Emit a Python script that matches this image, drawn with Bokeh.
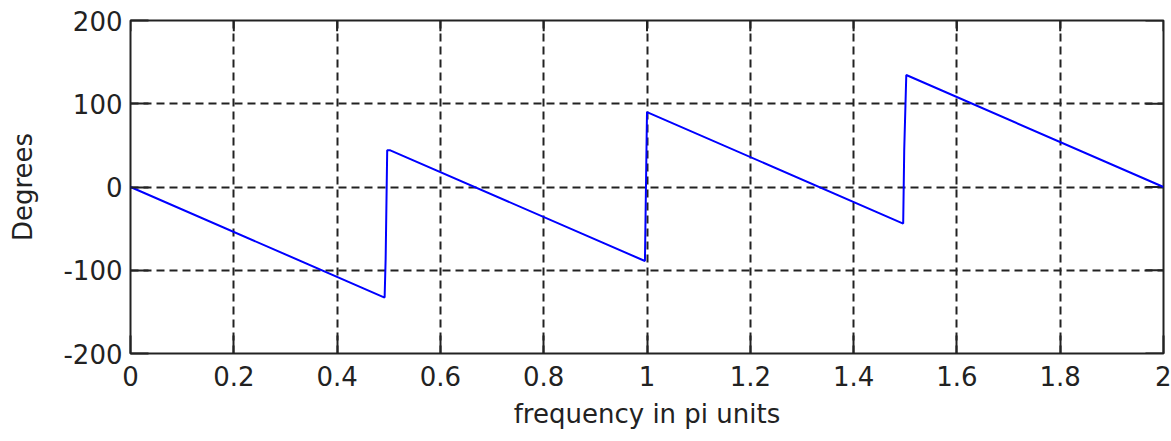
from bokeh.plotting import figure
from bokeh.models import LinearAxis, FixedTicker, Range1d, Grid
from bokeh.embed import file_html
from bokeh.resources import INLINE

# data (frequency in pi units, phase in degrees)
freq = [0.0, 0.492, 0.494, 0.497, 0.503, 0.996, 1.000, 1.496, 1.498, 1.502, 2.0]
phase = [0.0, -132.8, -86.0, 44.0, 44.0, -88.9, 90.0, -43.9, 44.0, 134.5, 0.0]

x_ticks = [0, 0.2, 0.4, 0.6, 0.8, 1.0, 1.2, 1.4, 1.6, 1.8, 2.0]
x_tick_labels = ["0", "0.2", "0.4", "0.6", "0.8", "1", "1.2", "1.4", "1.6", "1.8", "2"]
y_ticks = [-200, -100, 0, 100, 200]
y_tick_labels = ["-200", "-100", "0", "100", "200"]

FONT = "DejaVu Sans"
FS = "26px"
INK = "#222222"
XMIN, XMAX, YMIN, YMAX = 0, 2, -200, 200

W, H = 1171, 433
ML, MR, MT, MB = 130, 8, 20, 80

p = figure(width=W, height=H, output_backend="svg", toolbar_location=None,
           x_range=Range1d(XMIN, XMAX), y_range=Range1d(YMIN, YMAX),
           min_border_left=ML, min_border_right=MR, min_border_top=MT, min_border_bottom=MB,
           x_axis_location=None, y_axis_location=None)
for g in p.grid:
    g.visible = False
p.background_fill_color = "white"
p.border_fill_color = "white"
p.outline_line_color = INK
p.outline_line_width = 2

def style_axis(ax, ticks, labels):
    ax.ticker = FixedTicker(ticks=ticks)
    ax.major_label_overrides = {t: l for t, l in zip(ticks, labels)}
    ax.axis_line_color = None
    ax.major_tick_in = 18
    ax.major_tick_out = 0
    ax.major_tick_line_color = INK
    ax.major_tick_line_width = 2
    ax.minor_tick_line_color = None
    ax.major_label_text_font = FONT
    ax.major_label_text_font_size = FS
    ax.major_label_text_color = INK
    ax.axis_label_text_font = FONT
    ax.axis_label_text_font_size = FS
    ax.axis_label_text_font_style = "normal"
    ax.axis_label_text_color = INK

xb = LinearAxis(axis_label="frequency in pi units")
style_axis(xb, x_ticks, x_tick_labels)
xb.major_label_standoff = 12
xb.axis_label_standoff = 10
p.add_layout(xb, "below")

yl = LinearAxis(axis_label="Degrees")
style_axis(yl, y_ticks, y_tick_labels)
yl.major_label_standoff = 8
yl.axis_label_standoff = 22
p.add_layout(yl, "left")

gx = Grid(dimension=0, ticker=FixedTicker(ticks=x_ticks), grid_line_color=INK,
          grid_line_width=2, grid_line_dash="8 5")
gy = Grid(dimension=1, ticker=FixedTicker(ticks=y_ticks), grid_line_color=INK,
          grid_line_width=2, grid_line_dash="8 5")
p.add_layout(gx)
p.add_layout(gy)

# inward ticks on the top and right edges of the box (length in pixels converted to data units)
tick_px = 18
fw = W - ML - MR
fh = H - MT - MB
dx = tick_px * (XMAX - XMIN) / fw
dy = tick_px * (YMAX - YMIN) / fh
p.segment(x0=x_ticks, y0=[YMAX] * len(x_ticks), x1=x_ticks, y1=[YMAX - dy * 0.6] * len(x_ticks),
          line_color=INK, line_width=2)
p.segment(x0=[XMAX] * len(y_ticks), y0=y_ticks, x1=[XMAX - dx] * len(y_ticks), y1=y_ticks,
          line_color=INK, line_width=2)

p.line(freq, phase, line_color="#0000ff", line_width=2)

open("out.html", "w").write(file_html(p, INLINE))
